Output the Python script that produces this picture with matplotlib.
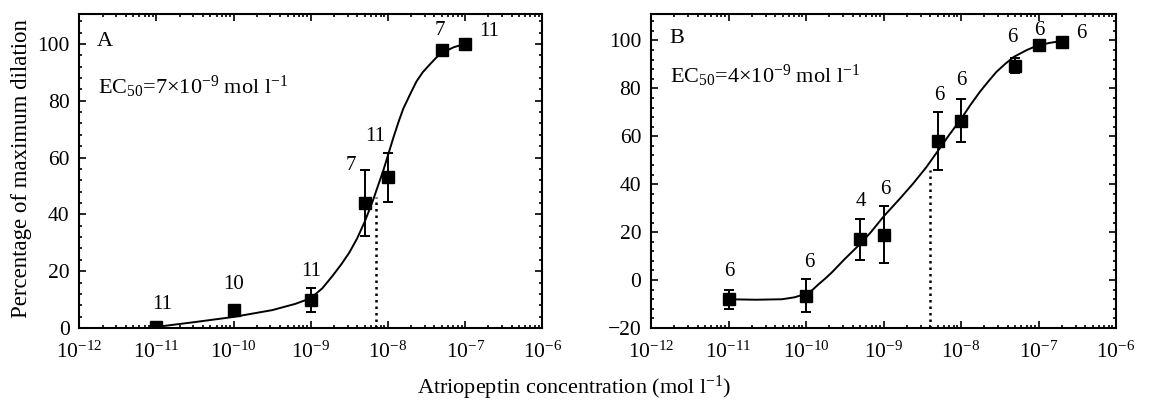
import numpy as np
import matplotlib

matplotlib.use("Agg")
import matplotlib.pyplot as plt
from matplotlib.ticker import LogLocator, MultipleLocator, NullFormatter, LogFormatterSciNotation


plt.rcParams["font.family"] = ["Liberation Serif", "DejaVu Serif"]
plt.rcParams["mathtext.fontset"] = "custom"
plt.rcParams["mathtext.rm"] = "Liberation Serif"
plt.rcParams["mathtext.it"] = "Liberation Serif:italic"
plt.rcParams["axes.unicode_minus"] = True

decades = [1e-12, 1e-11, 1e-10, 1e-9, 1e-8, 1e-7, 1e-6]

# panel A: atriopeptin concentration (mol l-1), % of maximum dilation, s.e.m., n
conc_a = [1e-11, 1e-10, 1e-9, 5e-9, 1e-8, 5e-8, 1e-7]
resp_a = [0.5, 6.5, 10.0, 44.0, 53.0, 98.0, 100.0]
err_a = [0.0, 0.0, 4.2, 11.5, 8.5, 0.0, 0.0]
n_a = ["11", "10", "11", "7", "11", "7", "11"]
ec50_a = 7e-9
ec50_top_a = 46.0

# fitted curve of panel A (log10 conc, %)
curve_logc_a = [-11.0, -10.5, -10.0, -9.5, -9.2, -9.0, -8.85, -8.72, -8.6, -8.5,
                -8.4, -8.3, -8.2, -8.13, -8.06, -8.0, -7.93, -7.86, -7.8, -7.7,
                -7.63, -7.55, -7.46, -7.38, -7.32, -7.15, -7.0]
curve_resp_a = [0.4, 2.1, 3.9, 6.3, 8.5, 10.5, 14.0, 18.3, 22.6, 26.6,
                31.5, 37.5, 44.5, 50.0, 55.5, 60.8, 67.0, 72.8, 77.3, 83.0,
                86.8, 90.0, 92.7, 95.0, 96.6, 98.8, 100.0]

# panel B
conc_b = [1e-11, 1e-10, 5e-10, 1e-9, 5e-9, 1e-8, 5e-8, 1e-7, 2e-7]
resp_b = [-8.0, -6.5, 17.0, 19.0, 58.0, 66.5, 89.5, 98.0, 99.5]
err_b = [4.0, 7.0, 8.5, 12.0, 12.0, 9.0, 3.0, 0.0, 0.0]
n_b = ["6", "6", "4", "6", "6", "6", "6", "6", "6"]
ec50_b = 4e-9
ec50_top_b = 46.0

curve_logc_b = [-11.0, -10.65, -10.31, -10.15, -10.0, -9.92, -9.84, -9.75, -9.67,
                -9.5, -9.32, -9.16, -9.0, -8.78, -8.62, -8.45, -8.3, -8.15, -8.0,
                -7.88, -7.76, -7.65, -7.545, -7.43, -7.32, -7.15, -7.01, -6.85, -6.71]
curve_resp_b = [-8.0, -8.2, -8.0, -7.2, -5.7, -4.2, -1.8, 0.7, 3.1,
                8.8, 14.5, 20.1, 26.5, 34.3, 40.2, 47.0, 53.8, 60.7, 67.2,
                73.0, 78.4, 82.8, 86.8, 90.2, 93.1, 96.0, 97.9, 99.0, 99.7]

# layout: where the n labels sit (log10 conc, y)
label_pos_a = [(-10.92, 8.2), (-10.0, 15.2), (-9.0, 19.9), (-8.48, 57.3),
               (-8.17, 67.3), (-7.33, 104.7), (-6.69, 104.4)]
label_pos_b = [(-10.99, 3.6), (-9.96, 7.5), (-9.29, 32.6), (-8.98, 37.9),
               (-8.28, 77.1), (-8.0, 83.3), (-7.34, 101.4), (-6.99, 104.2),
               (-6.45, 102.8)]

fig = plt.figure(figsize=(11.49, 4.01), dpi=100)
ax_a = fig.add_axes([0.0690, 0.182, 0.403, 0.783])
ax_b = fig.add_axes([0.5666, 0.182, 0.4047, 0.783])


def draw_panel(ax, conc, resp, err, n_labels, label_pos, curve_logc, curve_resp,
               ec50, ec50_top, ylim, letter, ec50_text):
    ax.plot(10.0 ** np.array(curve_logc), curve_resp, color="black", lw=1.4)
    ax.errorbar(conc, resp, yerr=err, fmt="s", color="black", ms=8,
                elinewidth=1.4, capsize=3.5, capthick=1.4)
    ax.plot([ec50, ec50], [ylim[0], ec50_top], color="black", lw=1.8,
            linestyle=(0, (1, 1.6)))

    for label, (lx, ly) in zip(n_labels, label_pos):
        ax.text(10.0 ** lx, ly, label, ha="center", va="center", fontsize=15)

    ax.text(10.0 ** -11.67, 101.0, letter, ha="center", va="center", fontsize=16)
    ax.text(10.0 ** -11.76, 85.0, ec50_text, ha="left", va="center", fontsize=16)

    ax.set_xscale("log")
    ax.set_xlim(decades[0], decades[-1])
    ax.set_ylim(*ylim)
    ax.set_xticks(decades)
    ax.xaxis.set_major_formatter(LogFormatterSciNotation())
    ax.xaxis.set_minor_locator(LogLocator(base=10, subs=np.arange(2, 10), numticks=20))
    ax.xaxis.set_minor_formatter(NullFormatter())
    ax.yaxis.set_major_locator(MultipleLocator(20))
    ax.yaxis.set_minor_locator(MultipleLocator(4))
    ax.tick_params(which="both", direction="in", top=True, right=True, width=1.2)
    ax.tick_params(which="major", length=5, labelsize=15.5)
    ax.tick_params(axis="y", which="major", pad=7)
    ax.tick_params(axis="x", which="major", pad=10)
    ax.tick_params(which="minor", length=2.5)
    for spine in ax.spines.values():
        spine.set_linewidth(1.5)


draw_panel(ax_a, conc_a, resp_a, err_a, n_a, label_pos_a, curve_logc_a,
           curve_resp_a, ec50_a, ec50_top_a, (0, 110.5), "A",
           r"EC$_{50}$=7$\times$10$^{-9}$ mol l$^{-1}$")
draw_panel(ax_b, conc_b, resp_b, err_b, n_b, label_pos_b, curve_logc_b,
           curve_resp_b, ec50_b, ec50_top_b, (-20, 111), "B",
           r"EC$_{50}$=4$\times$10$^{-9}$ mol l$^{-1}$")

fig.text(22 / 1149, 0.58, "Percentage of maximum dilation", rotation=90,
         ha="center", va="center", fontsize=16.5)
fig.text(0.5, 0.032, r"Atriopeptin concentration (mol l$^{-1}$)",
         ha="center", va="center", fontsize=16)

fig.savefig("out.png", dpi=100)
